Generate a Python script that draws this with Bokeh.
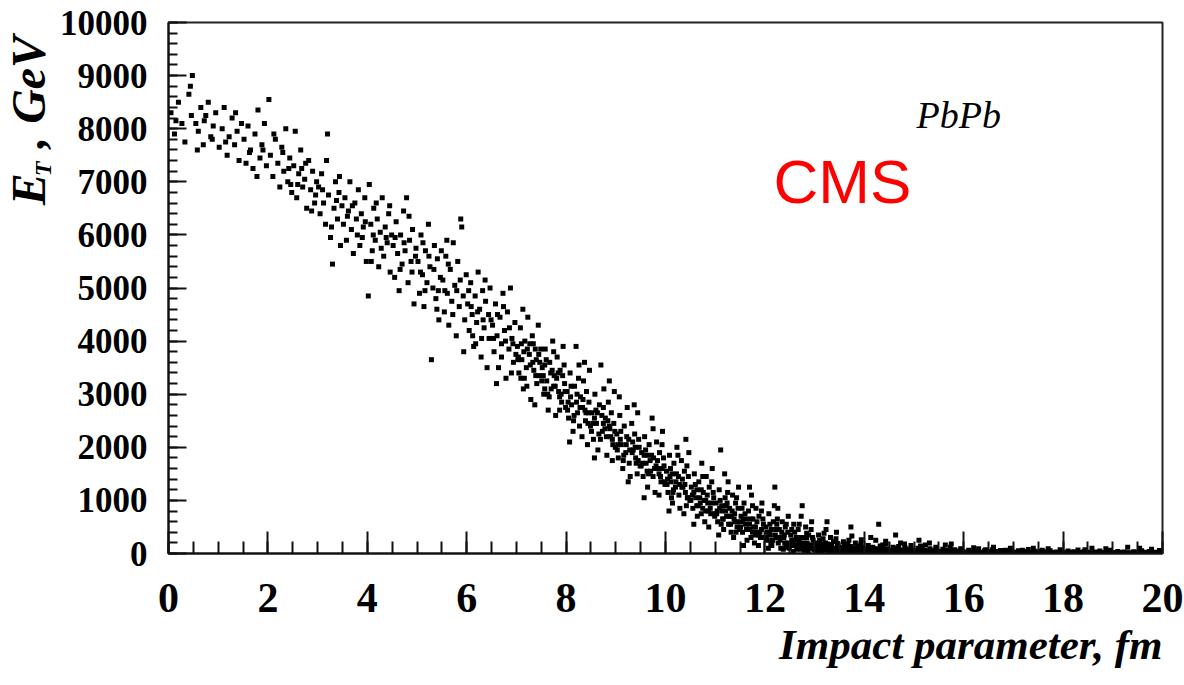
import math
from bokeh.plotting import figure
from bokeh.layouts import row
from bokeh.models import Range1d, SingleIntervalTicker, Label, ColumnDataSource, Title
from bokeh.embed import file_html
from bokeh.resources import INLINE

# (impact parameter b [fm], transverse energy E_T [GeV])
events_b0_2 = [
    (0.05,8300),(0.12,7900),(0.2,8500),(0.27,8100),(0.33,7750),(0.41,8650),(0.46,8250),(0.48,9000),(0.44,8800),(0.15,8150),
    (0.55,8100),(0.6,7950),(0.65,8400),(0.7,7700),(0.75,8250),(0.8,8500),(0.85,7850),(0.9,8050),(0.95,8300),(0.58,7600),(0.72,8150),(0.88,7800),
    (1.02,7650),(1.08,8000),(1.12,8400),(1.18,7500),(1.22,7850),(1.28,8200),(1.33,7700),(1.38,7950),(1.42,7400),(1.47,8100),(1.15,7750),(1.35,8300),
    (1.52,7800),(1.56,7350),(1.6,8050),(1.65,7600),(1.7,7250),(1.74,7900),(1.8,8350),(1.84,7450),(1.88,7700),(1.93,8100),(1.97,7300),(1.63,7550),(1.78,7100),(1.9,7600),
]
events_b2_4 = [
    (2.02,8550),(2.05,7500),(2.1,7100),(2.15,7800),(2.2,7350),(2.24,6900),(2.28,7650),(2.32,7200),(2.36,8000),(2.4,7000),(2.44,7450),(2.48,6800),(2.12,7900),(2.3,7550),(2.42,7250),(2.46,6950),
    (2.52,7300),(2.55,7950),(2.58,6700),(2.62,7150),(2.66,7600),(2.7,6900),(2.74,7050),(2.78,6500),(2.82,7400),(2.86,6850),(2.9,7200),(2.94,6600),(2.98,7000),(2.6,6950),(2.76,7350),(2.88,6450),(2.68,7250),(2.96,6750),
    (3.02,6900),(3.05,6400),(3.08,7150),(3.12,6600),(3.16,6200),(3.2,7900),(3.22,6750),(3.26,5950),(3.3,5450),(3.33,6500),(3.36,7000),(3.4,6300),(3.43,6800),(3.46,5800),(3.49,6550),(3.1,6850),(3.18,7400),(3.28,6150),(3.38,6650),(3.44,7100),
    (3.52,6200),(3.55,6700),(3.58,5900),(3.62,6450),(3.65,7000),(3.68,6100),(3.72,5650),(3.75,6600),(3.78,6300),(3.82,6850),(3.85,5800),(3.88,6400),(3.92,6150),(3.95,6700),(3.98,5500),(3.6,6350),(3.7,6550),(3.8,6000),(3.9,5950),(3.96,6250),
]
events_b4_6 = [
    (4.02,4850),(4.04,6950),(4.07,6200),(4.1,5700),(4.13,6500),(4.16,5900),(4.2,6300),(4.23,5400),(4.26,6050),(4.3,6700),(4.33,5600),(4.36,6150),(4.4,5850),(4.43,6400),(4.46,5300),(4.49,6000),(4.08,5500),(4.18,6600),(4.28,5750),(4.38,5950),(4.45,6550),(4.12,6000),
    (4.52,5800),(4.55,5200),(4.58,6250),(4.61,5650),(4.64,4950),(4.67,6000),(4.7,5450),(4.73,6450),(4.76,5700),(4.79,6700),(4.82,5100),(4.85,5900),(4.88,5500),(4.91,6100),(4.94,4700),(4.97,5600),(4.56,5950),(4.66,5350),(4.74,5850),(4.84,6350),(4.9,5300),(4.98,5750),
    (5.02,5500),(5.05,4900),(5.08,6000),(5.11,5250),(5.14,4650),(5.17,5700),(5.2,5100),(5.23,6200),(5.26,5400),(5.29,3650),(5.32,5000),(5.35,5800),(5.38,4800),(5.41,5550),(5.44,4400),(5.47,5200),(5.07,5300),(5.16,4950),(5.24,5600),(5.34,5350),(5.43,4950),(5.49,5700),(5.12,5850),(5.4,4600),
    (5.52,5150),(5.55,4550),(5.58,5600),(5.61,4900),(5.64,4300),(5.67,5350),(5.7,4750),(5.73,5850),(5.76,5050),(5.79,4100),(5.82,5500),(5.85,4650),(5.88,6300),(5.9,6150),(5.93,4850),(5.96,4400),(5.99,5250),(5.56,4950),(5.63,5450),(5.72,4500),(5.8,4950),(5.87,5150),(5.94,3800),(5.6,5900),
]
events_b6_8 = [
    (6.02,4700),(6.05,4200),(6.08,5100),(6.11,4500),(6.14,3900),(6.17,4850),(6.2,4350),(6.23,5300),(6.26,4600),(6.29,3700),(6.32,4950),(6.35,4250),(6.38,4750),(6.41,3500),(6.44,4500),(6.47,5000),(6.04,4950),(6.12,4100),(6.22,4550),(6.3,4050),(6.37,5150),(6.45,4050),(6.49,4400),(6.18,3950),(6.33,4400),(6.09,4650),
    (6.52,4300),(6.55,3800),(6.58,4700),(6.61,4100),(6.64,3500),(6.67,4450),(6.7,3950),(6.73,4900),(6.76,4200),(6.79,3300),(6.82,4550),(6.85,3850),(6.88,5000),(6.91,4050),(6.94,3600),(6.97,4350),(6.54,4050),(6.62,4500),(6.7,3700),(6.78,4000),(6.86,4250),(6.93,3950),(6.99,3750),(6.6,3200),(6.74,4650),(6.9,3400),
    (7.02,3900),(7.05,3400),(7.08,4250),(7.11,3650),(7.14,3100),(7.17,4000),(7.2,3500),(7.23,4450),(7.26,3750),(7.29,2900),(7.32,4100),(7.35,3450),(7.38,3850),(7.41,3200),(7.44,4300),(7.47,3600),(7.04,3700),(7.1,3950),(7.16,3300),(7.22,3850),(7.28,3550),(7.34,3950),(7.4,3650),(7.46,3350),(7.49,3850),(7.13,4600),(7.37,2800),
    (7.52,3500),(7.55,3000),(7.58,3850),(7.61,3250),(7.64,2700),(7.67,3600),(7.7,3100),(7.73,4000),(7.76,3350),(7.79,2600),(7.82,3700),(7.85,3050),(7.88,3450),(7.91,2850),(7.94,3900),(7.97,3200),(7.54,3350),(7.6,3650),(7.66,2950),(7.72,3450),(7.78,3150),(7.84,3400),(7.9,3000),(7.96,3550),(7.99,2750),(7.57,3100),(7.75,3800),(7.87,2700),
]
events_b8_10 = [
    (8.02,3050),(8.05,2550),(8.08,3400),(8.11,2800),(8.14,2300),(8.17,3150),(8.2,3900),(8.23,2650),(8.26,3550),(8.29,2950),(8.32,2200),(8.35,3250),(8.38,2700),(8.41,3050),(8.44,2450),(8.47,3450),(8.04,2850),(8.1,3150),(8.16,2600),(8.22,3000),(8.28,2750),(8.34,2900),(8.4,2650),(8.46,2850),(8.49,2400),(8.07,2100),(8.25,3300),(8.37,3600),(8.43,2050),
    (8.52,2650),(8.55,2150),(8.58,3000),(8.61,2450),(8.64,1950),(8.67,2800),(8.7,3550),(8.73,2300),(8.76,3100),(8.79,2550),(8.82,1850),(8.85,2850),(8.88,2350),(8.91,2650),(8.94,2050),(8.97,3050),(8.54,2450),(8.6,2700),(8.66,2250),(8.72,2600),(8.78,2350),(8.84,2500),(8.9,2200),(8.96,2450),(8.99,2000),(8.57,1800),(8.75,2750),(8.87,3250),(8.93,1750),
    (9.02,2250),(9.05,1800),(9.08,2600),(9.11,2050),(9.14,1600),(9.17,2400),(9.2,1900),(9.23,2750),(9.26,2150),(9.29,1450),(9.32,2450),(9.35,1950),(9.38,2250),(9.41,1700),(9.44,2650),(9.47,2000),(9.04,2050),(9.1,2300),(9.16,1850),(9.22,2200),(9.28,1950),(9.34,2100),(9.4,1800),(9.46,2150),(9.49,1650),(9.07,2950),(9.25,1350),(9.37,2800),(9.43,1500),
    (9.52,1900),(9.55,1450),(9.58,2200),(9.61,1700),(9.64,1250),(9.67,2050),(9.7,1550),(9.73,2550),(9.76,1800),(9.79,1150),(9.82,2100),(9.85,1600),(9.88,1900),(9.91,1350),(9.94,2300),(9.97,1650),(9.54,1700),(9.6,1950),(9.66,1500),(9.72,1850),(9.78,1600),(9.84,1750),(9.9,1450),(9.96,1800),(9.99,1300),(9.57,1050),(9.75,2350),(9.87,1100),(9.93,2050),(9.63,1850),
]
events_b10_12 = [
    (10.02,1550),(10.05,1150),(10.08,1850),(10.11,1350),(10.14,950),(10.17,1700),(10.2,1250),(10.23,2000),(10.26,1450),(10.29,850),(10.32,1750),(10.35,1250),(10.38,1550),(10.41,2150),(10.44,1050),(10.47,1900),(10.04,1400),(10.1,1600),(10.16,1200),(10.22,1500),(10.28,1300),(10.34,1400),(10.4,1150),(10.46,1450),(10.49,1000),(10.07,800),(10.25,1850),(10.37,750),(10.43,1650),(10.13,1500),
    (10.52,1250),(10.55,850),(10.58,1500),(10.61,1050),(10.64,700),(10.67,1350),(10.7,950),(10.73,1700),(10.76,1150),(10.79,600),(10.82,1450),(10.85,950),(10.88,1250),(10.91,750),(10.94,1600),(10.97,1050),(10.54,1100),(10.6,1300),(10.66,900),(10.72,1200),(10.78,1000),(10.84,1100),(10.9,850),(10.96,1150),(10.99,700),(10.57,550),(10.75,1450),(10.87,500),(10.93,1350),(10.63,1200),(10.81,800),
    (11.02,950),(11.05,600),(11.08,1200),(11.11,1950),(11.14,800),(11.17,450),(11.2,1050),(11.23,700),(11.26,1350),(11.29,850),(11.32,400),(11.35,1100),(11.38,650),(11.41,950),(11.44,500),(11.47,1250),(11.04,800),(11.1,1000),(11.16,650),(11.22,900),(11.28,700),(11.34,800),(11.4,600),(11.46,850),(11.49,450),(11.07,350),(11.25,1150),(11.37,300),(11.43,1050),(11.13,900),(11.31,550),(11.19,1500),
    (11.52,700),(11.55,400),(11.58,950),(11.61,550),(11.64,250),(11.67,800),(11.7,450),(11.73,1100),(11.76,650),(11.79,200),(11.82,850),(11.85,400),(11.88,700),(11.91,300),(11.94,950),(11.97,550),(11.54,600),(11.6,750),(11.66,450),(11.72,650),(11.78,500),(11.84,600),(11.9,400),(11.96,650),(11.99,300),(11.57,150),(11.75,900),(11.87,150),(11.93,800),(11.63,650),(11.81,350),(11.69,1250),
]
events_b12_14 = [
    (12.02,500),(12.05,250),(12.08,750),(12.11,350),(12.14,150),(12.17,600),(12.2,1250),(12.23,300),(12.26,850),(12.29,450),(12.32,100),(12.35,600),(12.38,300),(12.41,500),(12.44,150),(12.47,700),(12.04,400),(12.1,550),(12.16,250),(12.22,450),(12.28,300),(12.34,400),(12.4,200),(12.46,400),(12.49,100),(12.07,100),(12.25,650),(12.37,80),(12.43,550),(12.13,450),(12.31,250),(12.19,900),
    (12.52,350),(12.55,150),(12.58,550),(12.61,250),(12.64,80),(12.67,450),(12.7,200),(12.73,700),(12.76,300),(12.79,60),(12.82,500),(12.85,200),(12.88,350),(12.91,100),(12.94,600),(12.97,250),(12.54,250),(12.6,400),(12.66,150),(12.72,300),(12.78,200),(12.84,300),(12.9,150),(12.96,300),(12.99,70),(12.57,40),(12.75,900),(12.87,50),(12.93,450),(12.63,300),(12.81,120),(12.69,550),
    (13.02,200),(13.05,80),(13.08,350),(13.11,150),(13.14,40),(13.17,280),(13.2,120),(13.23,450),(13.26,180),(13.29,30),(13.32,300),(13.35,100),(13.38,220),(13.41,50),(13.44,400),(13.47,150),(13.04,160),(13.1,250),(13.16,90),(13.22,200),(13.28,110),(13.34,170),(13.4,80),(13.46,190),(13.49,40),(13.07,30),(13.25,600),(13.37,20),(13.43,280),(13.13,180),(13.31,70),(13.19,380),
    (13.52,120),(13.55,40),(13.58,220),(13.61,90),(13.64,20),(13.67,180),(13.7,70),(13.73,500),(13.76,110),(13.79,20),(13.82,200),(13.85,60),(13.88,140),(13.91,30),(13.94,260),(13.97,90),(13.54,100),(13.6,160),(13.66,50),(13.72,130),(13.78,70),(13.84,110),(13.9,50),(13.96,120),(13.99,25),(13.57,15),(13.75,330),(13.87,10),(13.93,180),(13.63,110),(13.81,45),(13.69,250),
]
events_b14_16 = [
    (14.02,80),(14.05,30),(14.08,150),(14.11,60),(14.14,15),(14.17,120),(14.2,50),(14.23,250),(14.26,80),(14.29,550),(14.32,140),(14.35,40),(14.38,100),(14.41,20),(14.44,180),(14.47,60),(14.04,70),(14.1,110),(14.16,35),(14.22,90),(14.28,45),(14.34,75),(14.4,30),(14.46,85),(14.49,15),(14.13,300),(14.31,10),(14.43,230),(14.07,10),(14.37,160),
    (14.52,60),(14.55,20),(14.58,120),(14.61,45),(14.64,10),(14.67,95),(14.7,35),(14.73,200),(14.76,60),(14.79,10),(14.82,110),(14.85,30),(14.88,80),(14.91,15),(14.94,150),(14.97,50),(14.54,55),(14.6,85),(14.66,25),(14.72,70),(14.78,30),(14.84,60),(14.9,20),(14.96,65),(14.99,10),(14.63,350),(14.81,180),(14.69,130),
    (15.02,50),(15.05,15),(15.08,100),(15.11,35),(15.14,8),(15.17,80),(15.2,25),(15.23,160),(15.26,45),(15.29,8),(15.32,90),(15.35,20),(15.38,60),(15.41,10),(15.44,120),(15.47,35),(15.04,40),(15.1,250),(15.16,20),(15.22,55),(15.28,25),(15.34,45),(15.4,15),(15.46,50),(15.49,8),(15.13,140),(15.31,200),
    (15.52,40),(15.55,10),(15.58,80),(15.61,25),(15.64,5),(15.67,60),(15.7,20),(15.73,120),(15.76,35),(15.79,5),(15.82,70),(15.85,15),(15.88,45),(15.91,8),(15.94,90),(15.97,25),(15.54,30),(15.6,50),(15.66,15),(15.72,40),(15.78,20),(15.84,35),(15.9,10),(15.96,40),(15.99,5),(15.63,160),(15.75,180),
]
events_b16_20 = [
    (16.02,30),(16.06,8),(16.1,60),(16.14,20),(16.18,5),(16.22,45),(16.26,15),(16.3,90),(16.34,25),(16.38,5),(16.42,50),(16.46,12),(16.5,35),(16.54,6),(16.58,70),(16.62,20),(16.66,40),(16.7,10),(16.74,55),(16.78,18),(16.82,5),(16.86,35),(16.9,12),(16.94,100),(16.98,25),(16.2,110),(16.6,120),(16.04,15),(16.44,70),(16.84,60),
    (17.02,25),(17.06,6),(17.1,50),(17.14,15),(17.18,4),(17.22,40),(17.26,12),(17.3,75),(17.34,20),(17.38,4),(17.42,45),(17.46,10),(17.5,30),(17.54,5),(17.58,60),(17.62,18),(17.66,35),(17.7,8),(17.74,50),(17.78,15),(17.82,4),(17.86,30),(17.9,10),(17.94,70),(17.98,20),(17.4,100),(17.7,90),(17.18,60),(17.56,40),
    (18.02,20),(18.06,5),(18.1,45),(18.14,12),(18.18,3),(18.22,35),(18.26,10),(18.3,65),(18.34,18),(18.38,3),(18.42,40),(18.46,8),(18.5,25),(18.54,4),(18.58,100),(18.62,15),(18.66,30),(18.7,7),(18.74,45),(18.78,12),(18.82,3),(18.86,90),(18.9,8),(18.94,60),(18.98,18),(18.44,70),
    (19.02,18),(19.06,4),(19.1,40),(19.14,10),(19.18,3),(19.22,30),(19.26,8),(19.3,120),(19.34,15),(19.38,3),(19.42,35),(19.46,7),(19.5,22),(19.54,100),(19.58,50),(19.62,12),(19.66,25),(19.7,6),(19.74,40),(19.78,80),(19.82,3),(19.86,25),(19.9,7),(19.94,55),(19.97,15),
]
# extra events in the densest part of the band
events_core_7_14 = [
    (7.03,3650),(7.09,3300),(7.15,3800),(7.21,3150),(7.27,3950),(7.33,3600),(7.39,3350),(7.45,3750),(7.51,3250),(7.57,3550),(7.63,3000),(7.69,3400),(7.75,3150),(7.81,3300),(7.87,2950),(7.93,3350),(7.98,3050),
    (8.03,2700),(8.09,2950),(8.15,2500),(8.21,2850),(8.27,2400),(8.33,2750),(8.39,2500),(8.45,2650),(8.51,2300),(8.57,2550),(8.63,2650),(8.69,2150),(8.75,2450),(8.81,2200),(8.87,2400),(8.93,2150),(8.98,2300),
    (9.03,1950),(9.09,2150),(9.15,1750),(9.21,2050),(9.27,1700),(9.33,1900),(9.39,2000),(9.45,1750),(9.51,1650),(9.57,1850),(9.63,1550),(9.69,1750),(9.75,1450),(9.81,1650),(9.87,1500),(9.93,1600),(9.98,1350),
    (10.03,1300),(10.09,1450),(10.15,1150),(10.21,1350),(10.27,1100),(10.33,1250),(10.39,1300),(10.45,1050),(10.51,1000),(10.57,1150),(10.63,900),(10.69,1050),(10.75,850),(10.81,1000),(10.87,800),(10.93,950),(10.98,750),(10.12,1050),(10.42,900),(10.72,750),
    (11.03,750),(11.09,850),(11.15,650),(11.21,800),(11.27,550),(11.33,700),(11.39,750),(11.45,600),(11.51,500),(11.57,650),(11.63,450),(11.69,550),(11.75,400),(11.81,500),(11.87,350),(11.93,450),(11.98,300),(11.12,550),(11.42,400),(11.72,300),(11.24,950),(11.54,850),
    (12.03,300),(12.09,400),(12.15,250),(12.21,350),(12.27,200),(12.33,300),(12.39,350),(12.45,200),(12.51,180),(12.57,250),(12.63,150),(12.69,220),(12.75,120),(12.81,180),(12.87,100),(12.93,160),(12.98,90),(12.12,180),(12.42,120),(12.72,80),(12.24,550),(12.54,450),(12.84,380),
    (13.03,110),(13.09,70),(13.15,130),(13.21,60),(13.27,90),(13.33,50),(13.39,100),(13.45,60),(13.51,70),(13.57,110),(13.63,40),(13.69,80),(13.75,50),(13.81,90),(13.87,35),(13.93,70),(13.98,40),
]
events_tail_14_20 = [
    (14.06,45),(14.18,25),(14.3,60),(14.42,35),(14.56,40),(14.68,55),(14.8,20),(14.92,45),(15.06,30),(15.18,50),(15.3,15),(15.42,35),(15.56,25),(15.68,40),(15.8,12),(15.92,30),
    (16.08,20),(16.24,35),(16.4,15),(16.56,28),(16.72,12),(16.88,25),(17.04,15),(17.2,28),(17.36,10),(17.52,22),(17.68,12),(17.84,20),
    (18.0,10),(18.16,22),(18.32,8),(18.48,18),(18.64,10),(18.8,20),(18.96,8),(19.12,18),(19.28,8),(19.44,15),(19.6,6),(19.76,14),(19.92,6),
]

x_title = "Impact parameter, fm"
y_title_parts = ["E", "T", ",", "GeV"]
system_label = "PbPb"
experiment_label = "CMS"

all_events = (events_b0_2 + events_b2_4 + events_b4_6 + events_b6_8 + events_b8_10 +
              events_b10_12 + events_b12_14 + events_b14_16 + events_b16_20 +
              events_core_7_14 + events_tail_14_20)
src = ColumnDataSource(dict(b=[e[0] for e in all_events], et=[e[1] for e in all_events]))

SERIF = "Liberation Serif"
LAB_W = 56
H = 685

# --- main plot ---
p = figure(width=1184 - LAB_W, height=H, output_backend="svg", toolbar_location=None,
           x_range=Range1d(0, 20), y_range=Range1d(0, 10000),
           min_border_left=165 - LAB_W, min_border_right=22, min_border_top=22, min_border_bottom=132)
p.xgrid.visible = False
p.ygrid.visible = False
p.outline_line_color = "#222222"
p.outline_line_width = 2

p.scatter("b", "et", source=src, marker="square", size=5, fill_color="black", line_color=None)

p.xaxis.ticker = SingleIntervalTicker(interval=2, num_minor_ticks=4)
p.yaxis.ticker = SingleIntervalTicker(interval=1000, num_minor_ticks=5)
for ax in (p.xaxis[0], p.yaxis[0]):
    ax.axis_line_width = 2
    ax.axis_line_color = "#111111"
    ax.major_tick_line_width = 2
    ax.minor_tick_line_width = 2
    ax.major_tick_line_color = "#111111"
    ax.minor_tick_line_color = "#111111"
    ax.major_tick_out = 0
    ax.minor_tick_out = 0
    ax.major_label_text_font = SERIF
    ax.major_label_text_font_style = "bold"
    ax.major_label_text_color = "black"
p.xaxis.major_tick_in = 22
p.xaxis.minor_tick_in = 12
p.yaxis.major_tick_in = 18
p.yaxis.minor_tick_in = 9
p.xaxis.major_label_text_font_size = "42px"
p.yaxis.major_label_text_font_size = "35px"
p.xaxis.major_label_standoff = 30
p.yaxis.major_label_standoff = 21

p.add_layout(Title(text=x_title, align="right", text_font=SERIF, text_font_style="bold italic",
                   text_font_size="43px", text_color="black", standoff=9, offset=0), "below")

def inner_label(fig, text, x, y_center, size, font=SERIF, style="bold italic", color="black"):
    fig.add_layout(Label(x=x, y=y_center, x_units="screen", y_units="screen", text=text,
                         text_font=font, text_font_size=size, text_font_style=style,
                         text_color=color, text_align="left", text_baseline="middle"))

inner_label(p, system_label, 748, 439, "38px", style="italic")
inner_label(p, experiment_label, 605, 372, "62px", font="Liberation Sans", style="normal", color="#ff0000")

# --- narrow strip holding the rotated y-axis title E_T, GeV ---
ylab = figure(width=LAB_W, height=H, output_backend="svg", toolbar_location=None,
              x_range=Range1d(0, LAB_W), y_range=Range1d(0, H),
              x_axis_type=None, y_axis_type=None,
              min_border_left=0, min_border_right=0, min_border_top=0, min_border_bottom=0)
ylab.xgrid.visible = False
ylab.ygrid.visible = False
ylab.outline_line_color = None

def strip_label(text, x_center, y_center_from_top, size):
    # centre-anchored so the 90 degree rotation keeps the text where it is placed
    ylab.add_layout(Label(x=x_center, y=H - y_center_from_top, text=text, text_font=SERIF,
                          text_font_size=size, text_font_style="bold italic", text_color="black",
                          text_align="center", text_baseline="middle", angle=math.pi / 2))

strip_label(y_title_parts[0], 28, 215, "48px")
strip_label(y_title_parts[1], 42, 189, "24px")
strip_label(y_title_parts[2], 28, 155, "46px")
strip_label(y_title_parts[3], 28, 74, "48px")

layout = row(ylab, p, spacing=0)
open("out.html", "w").write(file_html(layout, INLINE))
